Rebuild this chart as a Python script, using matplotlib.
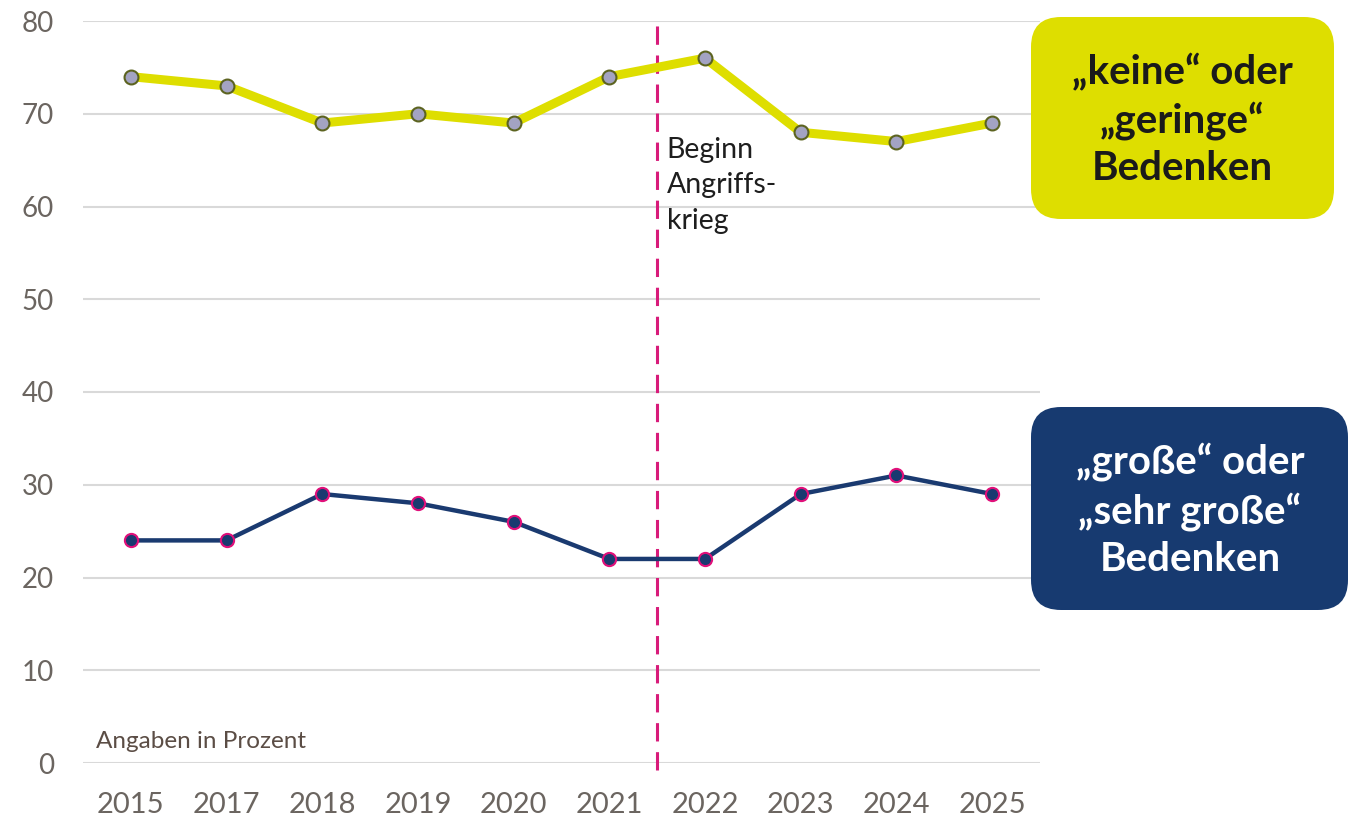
import matplotlib
matplotlib.use("Agg")
import matplotlib.pyplot as plt
from matplotlib.patches import FancyBboxPatch

# data
years = ["2015", "2017", "2018", "2019", "2020", "2021", "2022", "2023", "2024", "2025"]
low_concern = [74, 73, 69, 70, 69, 74, 76, 68, 67, 69]
high_concern = [24, 24, 29, 28, 26, 22, 22, 29, 31, 29]
war_start = 5.5  # between 2021 and 2022

plt.rcParams['font.family'] = ['Lato', 'DejaVu Sans']

fig = plt.figure(figsize=(13.49, 8.19), dpi=100)
ax = fig.add_axes([83 / 1349, 1 - 763 / 819, 957 / 1349, 742 / 819])

x = list(range(len(years)))
ax.plot(x, low_concern, color='#dede00', lw=6.5, marker='o', ms=10,
        mfc='#a3a3c2', mec='#5c6320', mew=1.5, zorder=4)
ax.plot(x, high_concern, color='#1a3a70', lw=3.2, marker='o', ms=9.5,
        mfc='#1a3a70', mec='#e0107a', mew=1.5, zorder=4)

ax.plot([war_start, war_start], [-0.8, 79.8], color='#d81b7a', lw=2.2,
        dashes=(6, 3.5), clip_on=False, zorder=3)
ax.text(war_start + 0.1, 62.3, "Beginn\nAngriffs-\nkrieg", fontsize=20.5,
        color='#1e1e1e', va='center', ha='left', linespacing=1.45)

ax.text(-0.36, 2.3, "Angaben in Prozent", fontsize=17.5, color='#5b4d45',
        ha='left', va='center')

ax.set_xlim(-0.5, 9.5)
ax.set_ylim(0, 80)
ax.set_yticks(range(0, 81, 10))
ax.set_xticks(x)
ax.set_xticklabels(years)
ax.grid(axis='y', color='#d9d9d9', lw=1.5)
ax.set_axisbelow(True)
for s in ax.spines.values():
    s.set_visible(False)
ax.tick_params(length=0, colors='#6b6560')
ax.tick_params(axis='y', pad=21, labelsize=20)
ax.tick_params(axis='x', pad=21, labelsize=21)

# label boxes on the right, placed in inches
tr = fig.dpi_scale_trans
fig.patches.append(FancyBboxPatch((10.31, 6.00), 3.03, 2.02,
                                  boxstyle="round,pad=0,rounding_size=0.3",
                                  fc='#dede00', ec='none', transform=tr, figure=fig))
fig.patches.append(FancyBboxPatch((10.31, 2.09), 3.17, 2.03,
                                  boxstyle="round,pad=0,rounding_size=0.3",
                                  fc='#173a70', ec='none', transform=tr, figure=fig))
fig.text(11.82, 6.99, "„keine“ oder\n„geringe“\nBedenken", transform=tr,
         fontsize=29, fontweight='bold', color='#1a1a1a', ha='center',
         va='center', linespacing=1.33)
fig.text(11.90, 3.09, "„große“ oder\n„sehr große“\nBedenken", transform=tr,
         fontsize=29, fontweight='bold', color='white', ha='center',
         va='center', linespacing=1.33)

fig.savefig("out.png", dpi=100)
